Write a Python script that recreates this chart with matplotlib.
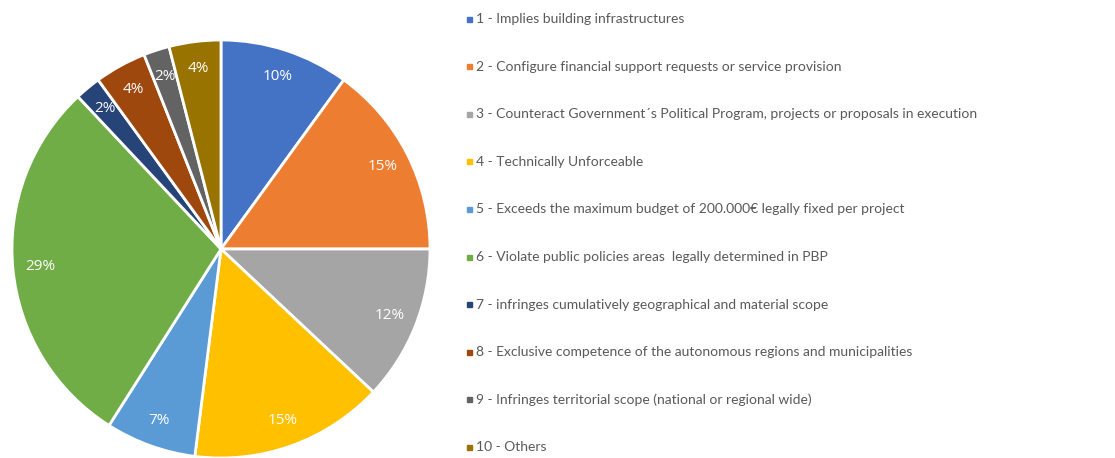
import matplotlib.pyplot as plt

# Datos del gráfico
etiquetas = [
    "1 - Implies building infrastructures",
    "2 - Configure financial support requests or service provision",
    "3 - Counteract Government´s Political Program, projects or proposals in execution",
    "4 - Technically Unforceable",
    "5 - Exceeds the maximum budget of 200.000€ legally fixed per project",
    "6 - Violate public policies areas  legally determined in PBP",
    "7 - infringes cumulatively geographical and material scope",
    "8 - Exclusive competence of the autonomous regions and municipalities",
    "9 - Infringes territorial scope (national or regional wide)",
    "10 - Others",
]
porcentajes = [10, 15, 12, 15, 7, 29, 2, 4, 2, 4]
colores = ["#4472C4", "#ED7D31", "#A5A5A5", "#FFC000", "#5B9BD5",
           "#70AD47", "#264478", "#9E480E", "#636363", "#997300"]

W, H = 1115, 458
fig = plt.figure(figsize=(W / 100, H / 100), dpi=100)

# Pastel: centro (221, 249) px, radio 209 px
cx, cy, r = 221, 249, 209
ax = fig.add_axes([(cx - r) / W, (H - cy - r) / H, 2 * r / W, 2 * r / H])
ax.pie(porcentajes, colors=colores, startangle=90, counterclock=False,
       autopct="%d%%", pctdistance=0.87,
       wedgeprops=dict(edgecolor="white", linewidth=2),
       textprops=dict(color="white", fontsize=11, family="Open Sans"))
ax.set_aspect("equal")
ax.set_xlim(-1, 1)
ax.set_ylim(-1, 1)

# Leyenda manual
y0, paso = 19, 47.6
for i, (etiqueta, color) in enumerate(zip(etiquetas, colores)):
    y = y0 + i * paso
    fig.patches.append(plt.Rectangle((467 / W, (H - y - 2.5) / H), 5 / W, 5 / H,
                                     transform=fig.transFigure, color=color))
    fig.text(476 / W, 1 - y / H, etiqueta, va="center", ha="left",
             fontsize=10, color="#595959", family="Lato")

fig.savefig("out.png", dpi=100)
